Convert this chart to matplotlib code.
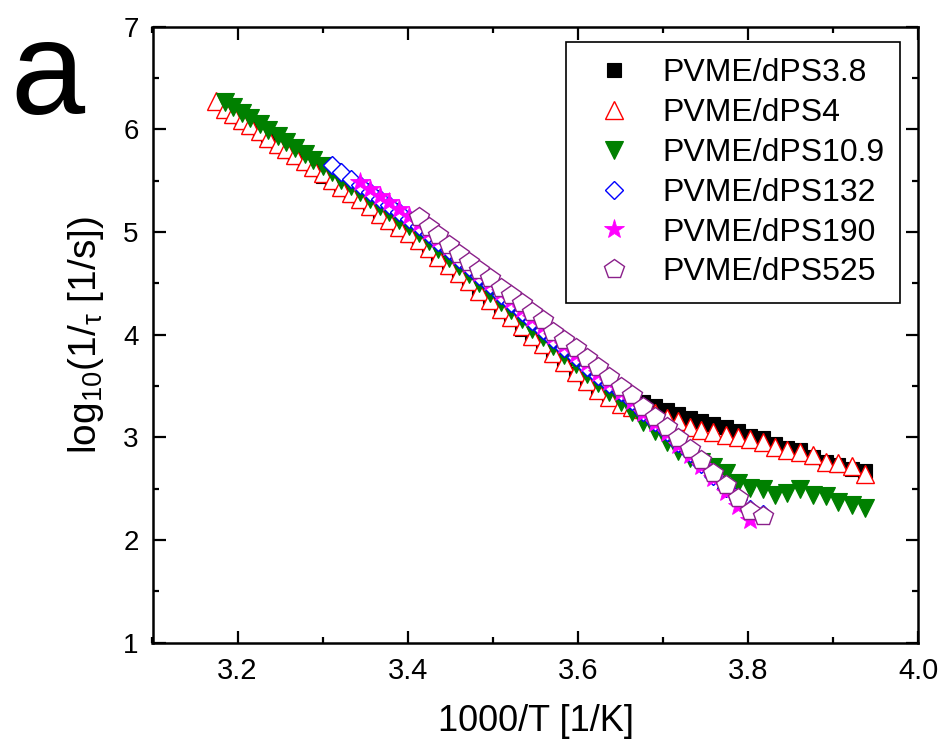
import matplotlib
matplotlib.use('Agg')
import matplotlib.pyplot as plt
from matplotlib import font_manager
from matplotlib.ticker import MultipleLocator

fams = {f.name for f in font_manager.fontManager.ttflist}
NARROW = 'Liberation Sans Narrow' if 'Liberation Sans Narrow' in fams else 'Liberation Sans'
plt.rcParams['font.family'] = ['Liberation Sans', 'DejaVu Sans']
plt.rcParams['mathtext.fontset'] = 'custom'
plt.rcParams['mathtext.rm'] = 'Liberation Sans'
plt.rcParams['mathtext.it'] = 'Liberation Sans'

# ---------------- data ----------------
labels = ['PVME/dPS3.8', 'PVME/dPS4', 'PVME/dPS10.9',
          'PVME/dPS132', 'PVME/dPS190', 'PVME/dPS525']

x_dps38 = [3.195, 3.205, 3.215, 3.226, 3.236, 3.247, 3.257, 3.268, 3.279, 3.289,
           3.300, 3.311, 3.322, 3.333, 3.344, 3.356, 3.367, 3.378, 3.390, 3.401,
           3.413, 3.425, 3.436, 3.448, 3.460, 3.472, 3.484, 3.497, 3.509, 3.521,
           3.534, 3.546, 3.559, 3.571, 3.584, 3.597, 3.610, 3.623, 3.636, 3.650,
           3.663, 3.676, 3.690, 3.704, 3.717, 3.731, 3.745, 3.759, 3.774, 3.788,
           3.802, 3.817, 3.831, 3.846, 3.861, 3.876, 3.891, 3.906, 3.922, 3.937]
y_dps38 = [6.13, 6.07, 6.02, 5.96, 5.90, 5.84, 5.79, 5.73, 5.67, 5.61,
           5.55, 5.49, 5.42, 5.36, 5.30, 5.23, 5.16, 5.10, 5.03, 4.97,
           4.90, 4.82, 4.74, 4.66, 4.58, 4.50, 4.41, 4.32, 4.23, 4.15,
           4.06, 3.97, 3.89, 3.80, 3.71, 3.62, 3.53, 3.46, 3.42, 3.40,
           3.37, 3.34, 3.31, 3.27, 3.23, 3.19, 3.16, 3.13, 3.10, 3.06,
           3.01, 2.99, 2.94, 2.90, 2.88, 2.81, 2.76, 2.73, 2.69, 2.67]

x_dps4 = [3.175, 3.185, 3.195, 3.205, 3.215, 3.226, 3.236, 3.247, 3.257, 3.268,
          3.279, 3.289, 3.300, 3.311, 3.322, 3.333, 3.344, 3.356, 3.367, 3.378,
          3.390, 3.401, 3.413, 3.425, 3.436, 3.448, 3.460, 3.472, 3.484, 3.497,
          3.509, 3.521, 3.534, 3.546, 3.559, 3.571, 3.584, 3.597, 3.610, 3.623,
          3.636, 3.650, 3.663, 3.676, 3.690, 3.704, 3.717, 3.731, 3.745, 3.759,
          3.774, 3.788, 3.802, 3.817, 3.831, 3.846, 3.861, 3.876, 3.891, 3.906,
          3.922, 3.937]
y_dps4 = [6.28, 6.20, 6.15, 6.09, 6.04, 5.98, 5.92, 5.86, 5.81, 5.75,
          5.69, 5.63, 5.57, 5.51, 5.44, 5.38, 5.32, 5.25, 5.18, 5.12,
          5.05, 4.99, 4.92, 4.84, 4.76, 4.68, 4.60, 4.52, 4.43, 4.34,
          4.25, 4.17, 4.08, 3.99, 3.91, 3.82, 3.73, 3.64, 3.55, 3.46,
          3.39, 3.33, 3.30, 3.28, 3.24, 3.19, 3.16, 3.10, 3.07, 3.05,
          3.02, 3.00, 2.98, 2.96, 2.91, 2.88, 2.86, 2.83, 2.76, 2.75,
          2.72, 2.64]

x_dps109 = [3.185, 3.195, 3.205, 3.215, 3.226, 3.236, 3.247, 3.257, 3.268, 3.279,
            3.289, 3.300, 3.311, 3.322, 3.333, 3.344, 3.356, 3.367, 3.378, 3.390,
            3.401, 3.413, 3.425, 3.436, 3.448, 3.460, 3.472, 3.484, 3.497, 3.509,
            3.521, 3.534, 3.546, 3.559, 3.571, 3.584, 3.597, 3.610, 3.623, 3.636,
            3.650, 3.663, 3.676, 3.690, 3.704, 3.717, 3.731, 3.745, 3.759, 3.774,
            3.788, 3.802, 3.817, 3.831, 3.846, 3.861, 3.876, 3.891, 3.906, 3.922,
            3.937]
y_dps109 = [6.27, 6.22, 6.16, 6.11, 6.05, 5.99, 5.93, 5.88, 5.82, 5.76,
            5.70, 5.64, 5.58, 5.51, 5.45, 5.39, 5.32, 5.25, 5.19, 5.12,
            5.06, 4.99, 4.91, 4.83, 4.75, 4.67, 4.59, 4.50, 4.41, 4.32,
            4.24, 4.15, 4.06, 3.98, 3.89, 3.80, 3.71, 3.62, 3.53, 3.44,
            3.34, 3.25, 3.15, 3.06, 2.96, 2.87, 2.80, 2.76, 2.71, 2.65,
            2.56, 2.51, 2.50, 2.44, 2.46, 2.50, 2.44, 2.43, 2.37, 2.34,
            2.31]

x_dps132 = [3.311, 3.322, 3.333, 3.344, 3.356, 3.367, 3.378, 3.390, 3.401, 3.413,
            3.425, 3.436, 3.448, 3.460, 3.472, 3.484, 3.497, 3.509, 3.521, 3.534,
            3.546, 3.559, 3.571, 3.584, 3.597, 3.610, 3.623, 3.636, 3.650, 3.663,
            3.676, 3.690, 3.704, 3.717, 3.731, 3.745, 3.759, 3.774, 3.788, 3.802,
            3.817]
y_dps132 = [5.65, 5.58, 5.52, 5.46, 5.39, 5.32, 5.26, 5.19, 5.13, 5.06,
            4.98, 4.90, 4.82, 4.74, 4.66, 4.57, 4.48, 4.39, 4.31, 4.22,
            4.13, 4.05, 3.96, 3.87, 3.78, 3.69, 3.60, 3.52, 3.44, 3.35,
            3.25, 3.15, 3.05, 2.95, 2.85, 2.74, 2.62, 2.51, 2.40, 2.30,
            2.25]

x_dps190 = [3.344, 3.356, 3.367, 3.378, 3.390, 3.401, 3.413, 3.425, 3.436, 3.448,
            3.460, 3.472, 3.484, 3.497, 3.509, 3.521, 3.534, 3.546, 3.559, 3.571,
            3.584, 3.597, 3.610, 3.623, 3.636, 3.650, 3.663, 3.676, 3.690, 3.704,
            3.717, 3.731, 3.745, 3.759, 3.774, 3.788, 3.802]
y_dps190 = [5.49, 5.42, 5.35, 5.29, 5.22, 5.16, 5.09, 5.01, 4.93, 4.85,
            4.77, 4.69, 4.60, 4.51, 4.42, 4.34, 4.25, 4.16, 4.08, 3.99,
            3.90, 3.81, 3.72, 3.63, 3.54, 3.44, 3.35, 3.24, 3.14, 3.04,
            2.93, 2.83, 2.72, 2.60, 2.47, 2.33, 2.20]

x_dps525 = [3.413, 3.425, 3.436, 3.448, 3.460, 3.472, 3.484, 3.497, 3.509, 3.521,
            3.534, 3.546, 3.559, 3.571, 3.584, 3.597, 3.610, 3.623, 3.636, 3.650,
            3.663, 3.676, 3.690, 3.704, 3.717, 3.731, 3.745, 3.759, 3.774, 3.788,
            3.802, 3.817]
y_dps525 = [5.15, 5.05, 4.97, 4.87, 4.79, 4.71, 4.63, 4.55, 4.45, 4.39,
            4.31, 4.22, 4.14, 4.03, 3.95, 3.87, 3.77, 3.69, 3.59, 3.49,
            3.41, 3.30, 3.20, 3.10, 2.99, 2.89, 2.78, 2.65, 2.54, 2.41,
            2.28, 2.23]

xticks = [3.2, 3.4, 3.6, 3.8, 4.0]
xtick_labels = ['3.2', '3.4', '3.6', '3.8', '4.0']
yticks = [1, 2, 3, 4, 5, 6, 7]

# ---------------- figure ----------------
W, H = 941, 748
fig = plt.figure(figsize=(W / 100, H / 100), dpi=100)
ax = fig.add_axes([152.5 / W, 1 - 642.8 / H, (918.5 - 152.5) / W, (642.8 - 26.6) / H])

series = [
    (x_dps38, y_dps38, dict(marker='s', color='black', mfc='black', mec='black', ms=10.5, mew=0.8)),
    (x_dps4, y_dps4, dict(marker='^', color='red', mfc='white', mec='red', ms=13, mew=1.0)),
    (x_dps109, y_dps109, dict(marker='v', color='green', mfc='green', mec='green', ms=13, mew=0.8)),
    (x_dps132, y_dps132, dict(marker='D', color='blue', mfc='white', mec='blue', ms=9.5, mew=1.0)),
    (x_dps190, y_dps190, dict(marker='*', color='magenta', mfc='magenta', mec='magenta', ms=15, mew=0.6)),
    (x_dps525, y_dps525, dict(marker='p', color='purple', mfc='white', mec='#8a208a', ms=14.5, mew=1.0)),
]
for (xs, ys, st), lab in zip(series, labels):
    ax.plot(xs, ys, linestyle='none', label=lab, **st)

ax.set_xlim(3.1, 4.0)
ax.set_ylim(1, 7)
ax.set_xticks(xticks)
ax.set_xticklabels(xtick_labels)
ax.set_yticks(yticks)
ax.xaxis.set_minor_locator(MultipleLocator(0.1))
ax.yaxis.set_minor_locator(MultipleLocator(0.5))
ax.tick_params(which='both', direction='in', top=True, right=True, width=1.6)
ax.tick_params(which='major', length=9, pad=10)
ax.tick_params(which='minor', length=4.5)
for lab in ax.get_xticklabels():
    lab.set_fontfamily([NARROW, 'Liberation Sans'])
    lab.set_fontsize(21)
for lab in ax.get_yticklabels():
    lab.set_fontsize(20)
for sp in ax.spines.values():
    sp.set_linewidth(1.8)

ax.set_xlabel('1000/T [1/K]', fontsize=26, family=[NARROW, 'Liberation Sans'], labelpad=14)
ax.set_ylabel(r'log$_{\mathregular{10}}$(1/$_{\mathregular{\tau}}$ [1/s])', fontsize=28, labelpad=12)

leg = ax.legend(loc='upper right', bbox_to_anchor=(0.976, 0.975), borderaxespad=0,
                fontsize=23, frameon=True, fancybox=False, framealpha=1,
                edgecolor='black', handlelength=2.0, handletextpad=0.5,
                labelspacing=0.31, borderpad=0.5, numpoints=1)
leg.get_frame().set_linewidth(1.2)

fig.text(10 / W, 1 - 114 / H, 'a', fontsize=96, va='baseline', ha='left')

fig.savefig('out.png', dpi=100)
